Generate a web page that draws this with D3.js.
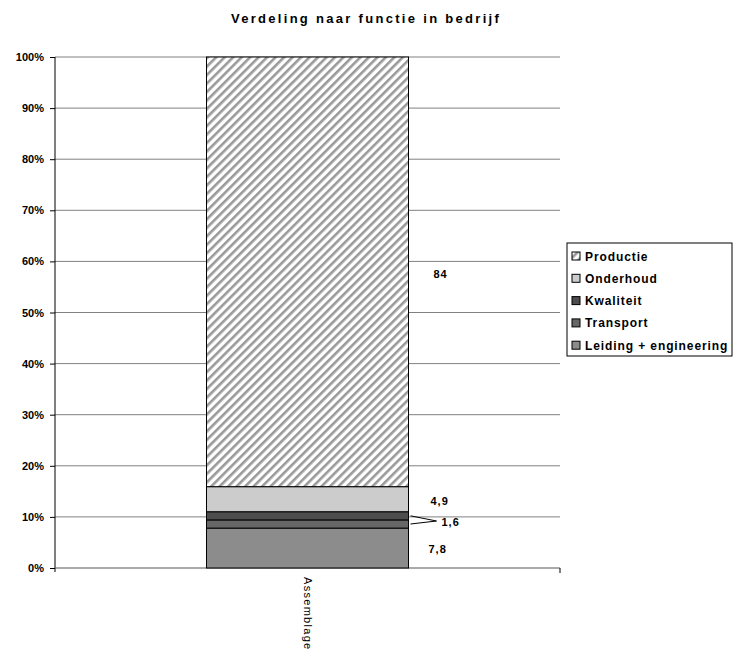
<!DOCTYPE html>
<html>
<head>
<meta charset="utf-8">
<script src="https://cdn.jsdelivr.net/npm/d3@7"></script>
<style>
  body { margin: 0; background: #fff; }
  text { font-family: "Liberation Sans", Arial, sans-serif; }
</style>
</head>
<body>
<script>
// data
let categories = ["Assemblage"]
let seriesNames = ["Leiding + engineering", "Transport", "Kwaliteit", "Onderhoud", "Productie"]
let seriesValues = [7.8, 1.6, 1.6, 4.9, 84]
let valueLabels = ["7,8", "1,6", "1,6", "4,9", "84"]
let yTicks = [0, 0.1, 0.2, 0.3, 0.4, 0.5, 0.6, 0.7, 0.8, 0.9, 1]
let fills = ["#8c8c8c", "#666666", "#4d4d4d", "#cccccc", "url(#hatch)"]

let width = 733, height = 650

let svg = d3.select("body").append("svg")
    .attr("width", width)
    .attr("height", height)

// diagonal hatch for Productie
let defs = svg.append("defs")
let pat = defs.append("pattern")
    .attr("id", "hatch")
    .attr("patternUnits", "userSpaceOnUse")
    .attr("width", 6).attr("height", 6)
    .attr("patternTransform", "rotate(45)")
pat.append("rect").attr("width", 6).attr("height", 6).attr("fill", "#fff")
pat.append("rect").attr("x", 0).attr("width", 2.6).attr("height", 6).attr("fill", "#999")

let x = d3.scaleBand()
    .domain(categories)
    .range([55, 560])
    .paddingInner(0.6).paddingOuter(0.3)

let y = d3.scaleLinear()
    .domain([0, 1])
    .range([568, 57])

// stack, normalised to 100%
let total = d3.sum(seriesValues)
let row = {}
seriesNames.forEach((s, i) => row[s] = seriesValues[i] / total)
let stacked = d3.stack().keys(seriesNames)([row])

// title
svg.append("text")
    .attr("x", 366).attr("y", 23)
    .attr("text-anchor", "middle")
    .attr("font-size", 13).attr("font-weight", "bold")
    .attr("letter-spacing", 2.3)
    .text("Verdeling naar functie in bedrijf")

// gridlines
svg.append("g").selectAll("line")
    .data(yTicks.filter(d => d > 0))
    .enter().append("line")
    .attr("x1", 55).attr("x2", 560)
    .attr("y1", d => y(d)).attr("y2", d => y(d))
    .attr("stroke", "#808080")

// y axis
let yAxis = d3.axisLeft(y)
    .tickValues(yTicks)
    .tickFormat(d3.format(".0%"))
    .tickSize(5)
    .tickPadding(6)
let yg = svg.append("g").attr("transform", "translate(55,0)").call(yAxis)
yg.select(".domain").attr("stroke", "#000").attr("d", "M0,57V572")
yg.selectAll(".tick line").attr("stroke", "#000")
yg.selectAll("text")
    .attr("font-size", 11).attr("font-weight", "bold")
    .attr("font-family", "Liberation Sans, Arial, sans-serif")
    .attr("fill", "#000")

// bottom axis
svg.append("line")
    .attr("x1", 55).attr("x2", 560)
    .attr("y1", y(0)).attr("y2", y(0))
    .attr("stroke", "#555")
svg.append("line")
    .attr("x1", 560).attr("x2", 560)
    .attr("y1", y(0)).attr("y2", y(0) + 5)
    .attr("stroke", "#000")

// bars
svg.append("g").selectAll("rect")
    .data(stacked)
    .enter().append("rect")
    .attr("x", x("Assemblage"))
    .attr("width", x.bandwidth())
    .attr("y", d => y(d[0][1]))
    .attr("height", d => y(d[0][0]) - y(d[0][1]))
    .attr("fill", (d, i) => fills[i])
    .attr("stroke", "#000")
    .attr("stroke-width", 1)

// category label (rotated)
svg.append("text")
    .attr("transform", `translate(${x("Assemblage") + x.bandwidth() / 2 - 4},577) rotate(90)`)
    .attr("font-size", 11)
    .attr("letter-spacing", 1.3)
    .text("Assemblage")

// value labels
let barRight = x("Assemblage") + x.bandwidth()
let mid = d => y((d[0][0] + d[0][1]) / 2)
let labelPos = [
  { dx: 20, y: mid(stacked[0]) + 5 },
  { dx: 33, y: 526 },
  { dx: 33, y: 526 },
  { dx: 22, y: mid(stacked[3]) + 6 },
  { dx: 25, y: mid(stacked[4]) + 6 }
]
let lg = svg.append("g")
stacked.forEach((d, i) => {
  if (i === 2) return
  lg.append("text")
    .attr("x", barRight + labelPos[i].dx)
    .attr("y", labelPos[i].y)
    .attr("font-size", 11).attr("font-weight", "bold")
    .attr("letter-spacing", 1)
    .text(valueLabels[i])
})
// leader lines for the two small segments
;[1, 2].forEach(i => {
  lg.append("line")
    .attr("x1", barRight + 2).attr("y1", mid(stacked[i]))
    .attr("x2", barRight + 28).attr("y2", 521)
    .attr("stroke", "#000")
})

// legend
let legend = svg.append("g").attr("transform", "translate(567,243)")
legend.append("rect")
    .attr("width", 165).attr("height", 113)
    .attr("fill", "#fff").attr("stroke", "#000")
let order = [4, 3, 2, 1, 0]
order.forEach((si, k) => {
  let g = legend.append("g").attr("transform", `translate(5,${13 + k * 22.3})`)
  g.append("rect")
    .attr("x", 0).attr("y", -4)
    .attr("width", 8).attr("height", 8)
    .attr("fill", fills[si]).attr("stroke", "#000")
  g.append("text")
    .attr("x", 13).attr("y", 4.5)
    .attr("font-size", 12).attr("font-weight", "bold")
    .attr("letter-spacing", 0.9)
    .text(seriesNames[si])
})
</script>
</body>
</html>
